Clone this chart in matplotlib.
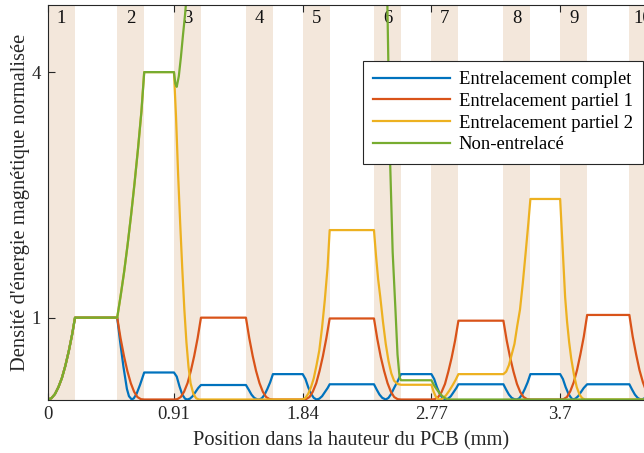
import numpy as np
import matplotlib.pyplot as plt

plt.rcParams['font.family'] = ['Liberation Serif', 'DejaVu Serif']

# couches de cuivre (mm)
layer_start = [0.0, 0.50, 0.91, 1.43, 1.84, 2.355, 2.77, 3.29, 3.70, 4.20]
layer_thick = 0.195
layer_names = ['1', '2', '3', '4', '5', '6', '7', '8', '9', '10']

x_ticks = [0, 0.91, 1.84, 2.77, 3.7]
x_ticklabels = ['0', '0.91', '1.84', '2.77', '3.7']
y_ticks = [1, 4]
y_ticklabels = ['1', '4']

# points (position mm, densite normalisee)
l1_pts = [(0, 0), (0.025, 0.016), (0.05, 0.066), (0.075, 0.15), (0.10, 0.26),
          (0.125, 0.41), (0.15, 0.59), (0.175, 0.8), (0.195, 1.0)]
l2_pts = [(0.50, 1.0), (0.525, 1.27), (0.55, 1.56), (0.575, 1.89), (0.60, 2.25),
          (0.625, 2.64), (0.65, 3.06), (0.675, 3.52), (0.695, 4.0)]

blue_pts = l1_pts + [
    (0.50, 1.0), (0.52, 0.72), (0.545, 0.40), (0.57, 0.13), (0.585, 0.04), (0.605, 0),
    (0.62, 0.015), (0.64, 0.07), (0.665, 0.18), (0.695, 0.33),
    (0.91, 0.33), (0.93, 0.28), (0.95, 0.16), (0.97, 0.06), (0.99, 0.01), (1.006, 0),
    (1.025, 0.01), (1.045, 0.04), (1.065, 0.09), (1.085, 0.14), (1.105, 0.177),
    (1.43, 0.177), (1.45, 0.12), (1.47, 0.06), (1.49, 0.02), (1.51, 0.003), (1.525, 0),
    (1.545, 0.015), (1.565, 0.06), (1.585, 0.13), (1.605, 0.21), (1.625, 0.31),
    (1.84, 0.31), (1.86, 0.25), (1.88, 0.15), (1.90, 0.07), (1.92, 0.02), (1.94, 0),
    (1.96, 0.01), (1.98, 0.04), (2.00, 0.09), (2.02, 0.14), (2.035, 0.186),
    (2.355, 0.186), (2.375, 0.12), (2.395, 0.06), (2.415, 0.02), (2.44, 0),
    (2.46, 0.02), (2.48, 0.07), (2.50, 0.14), (2.525, 0.22), (2.55, 0.31),
    (2.77, 0.31), (2.79, 0.25), (2.81, 0.15), (2.83, 0.07), (2.85, 0.02), (2.87, 0),
    (2.89, 0.01), (2.91, 0.04), (2.93, 0.09), (2.95, 0.14), (2.965, 0.186),
    (3.29, 0.186), (3.31, 0.12), (3.33, 0.06), (3.35, 0.02), (3.37, 0.003), (3.387, 0),
    (3.405, 0.015), (3.425, 0.06), (3.445, 0.13), (3.465, 0.21), (3.485, 0.31),
    (3.70, 0.31), (3.72, 0.25), (3.74, 0.15), (3.76, 0.07), (3.775, 0.03), (3.79, 0),
    (3.81, 0.01), (3.83, 0.04), (3.85, 0.09), (3.87, 0.14), (3.895, 0.186),
    (4.20, 0.186), (4.22, 0.12), (4.24, 0.06), (4.26, 0.02), (4.275, 0.005), (4.29, 0),
    (4.31, 0.015), (4.33, 0.06), (4.35, 0.13), (4.375, 0.22), (4.395, 0.33)]

orange_pts = l1_pts + [
    (0.50, 1.0), (0.524, 0.75), (0.549, 0.53), (0.573, 0.35), (0.598, 0.2),
    (0.622, 0.095), (0.646, 0.03), (0.671, 0.004), (0.695, 0),
    (0.91, 0), (0.934, 0.004), (0.959, 0.03), (0.983, 0.095), (1.008, 0.2),
    (1.032, 0.35), (1.056, 0.53), (1.081, 0.75), (1.105, 1.0),
    (1.43, 1.0), (1.454, 0.75), (1.479, 0.53), (1.503, 0.35), (1.528, 0.2),
    (1.552, 0.095), (1.576, 0.03), (1.601, 0.004), (1.625, 0),
    (1.84, 0), (1.864, 0.004), (1.889, 0.03), (1.913, 0.095), (1.938, 0.2),
    (1.962, 0.35), (1.986, 0.53), (2.011, 0.75), (2.035, 0.99),
    (2.355, 0.99), (2.379, 0.74), (2.404, 0.52), (2.428, 0.35), (2.453, 0.2),
    (2.477, 0.095), (2.501, 0.03), (2.526, 0.004), (2.55, 0),
    (2.77, 0), (2.794, 0.004), (2.819, 0.03), (2.843, 0.09), (2.868, 0.19),
    (2.892, 0.34), (2.916, 0.51), (2.941, 0.72), (2.965, 0.963),
    (3.29, 0.963), (3.314, 0.72), (3.339, 0.51), (3.363, 0.34), (3.388, 0.19),
    (3.412, 0.09), (3.436, 0.03), (3.461, 0.004), (3.485, 0),
    (3.70, 0), (3.724, 0.004), (3.749, 0.03), (3.773, 0.1), (3.798, 0.21),
    (3.822, 0.36), (3.846, 0.55), (3.871, 0.77), (3.895, 1.033),
    (4.20, 1.033), (4.224, 0.77), (4.249, 0.55), (4.273, 0.36), (4.298, 0.21),
    (4.322, 0.1), (4.346, 0.03), (4.371, 0.004), (4.395, 0)]

yellow_pts = l1_pts + l2_pts + [
    (0.91, 4.0), (0.925, 3.45), (0.94, 2.75), (0.955, 2.15), (0.97, 1.6), (0.985, 1.1),
    (1.0, 0.7), (1.015, 0.4), (1.03, 0.2), (1.05, 0.07), (1.07, 0.015), (1.09, 0),
    (1.84, 0), (1.86, 0.02), (1.88, 0.07), (1.90, 0.15), (1.92, 0.26), (1.94, 0.42),
    (1.96, 0.6), (1.98, 0.88), (2.00, 1.22), (2.02, 1.62), (2.035, 2.07),
    (2.355, 2.07), (2.37, 1.75), (2.385, 1.47), (2.40, 1.26), (2.42, 0.95), (2.44, 0.68),
    (2.46, 0.47), (2.48, 0.32), (2.50, 0.23), (2.525, 0.19), (2.55, 0.18),
    (2.77, 0.18), (2.785, 0.1), (2.80, 0.04), (2.815, 0.008), (2.83, 0), (2.85, 0.01),
    (2.875, 0.05), (2.90, 0.11), (2.925, 0.18), (2.945, 0.24), (2.965, 0.31),
    (3.29, 0.31), (3.31, 0.34), (3.33, 0.42), (3.35, 0.55), (3.37, 0.68), (3.39, 0.9),
    (3.41, 1.1), (3.43, 1.42), (3.45, 1.78), (3.47, 2.15), (3.485, 2.45),
    (3.70, 2.45), (3.712, 2.05), (3.724, 1.65), (3.736, 1.25), (3.75, 0.95), (3.765, 0.7),
    (3.78, 0.5), (3.80, 0.3), (3.82, 0.15), (3.84, 0.06), (3.86, 0.015), (3.88, 0),
    (4.395, 0)]

green_pts = l1_pts + l2_pts + [
    (0.91, 4.0), (0.92, 3.86), (0.93, 3.82), (0.945, 3.95), (0.96, 4.18), (0.975, 4.45),
    (0.99, 4.7), (1.0, 4.9), (1.02, 5.5), (1.05, 6.6), (1.08, 7.9), (1.105, 9.0),
    (1.43, 9.0), (1.625, 16.0), (1.84, 16.0), (2.035, 25.0), (2.355, 25.0),
    (2.40, 14.0), (2.43, 8.0), (2.45, 5.0), (2.47, 3.0), (2.49, 1.8), (2.51, 1.1),
    (2.525, 0.55), (2.54, 0.27), (2.55, 0.235),
    (2.77, 0.235), (2.79, 0.17), (2.81, 0.12), (2.83, 0.075), (2.85, 0.04),
    (2.87, 0.015), (2.89, 0.003), (2.91, 0), (4.395, 0)]

series = [
    ('Entrelacement complet', blue_pts, '#0072BD'),
    ('Entrelacement partiel 1', orange_pts, '#D95319'),
    ('Entrelacement partiel 2', yellow_pts, '#EDB120'),
    ('Non-entrelacé', green_pts, '#77AC30'),
]

fig = plt.figure(figsize=(6.44, 4.53), dpi=100)
# l'axe depasse a droite de l'image, comme sur l'original
ax = fig.add_axes([48 / 644, 53.5 / 453, 606 / 644, 394.5 / 453])

# bandes des couches
for s, name in zip(layer_start, layer_names):
    ax.axvspan(s, s + layer_thick, color='#F3E7DB', lw=0, zorder=0)
    ax.text(s + layer_thick / 2, 0.965, name, transform=ax.get_xaxis_transform(),
            ha='center', va='center', fontsize=13.5, color='#111111', zorder=1)

for label, pts, c in series:
    x, y = np.array(pts).T
    ax.plot(x, y, color=c, lw=1.6, label=label, zorder=2)

ax.set_xlim(0, 4.378)
ax.set_ylim(0, 4.82)
ax.set_xticks(x_ticks, x_ticklabels)
ax.set_yticks(y_ticks, y_ticklabels)
ax.tick_params(direction='in', top=True, right=True, length=5, width=0.8,
               labelsize=13.5, colors='#262626', pad=5)
for sp in ax.spines.values():
    sp.set_color('#262626')
    sp.set_linewidth(0.8)

ax.set_xlabel('Position dans la hauteur du PCB (mm)', fontsize=14.8, color='#262626', labelpad=5.5)
ax.set_ylabel("Densité d'énergie magnétique normalisée", fontsize=14.8, color='#262626', labelpad=1)

leg = ax.legend(loc='upper right', bbox_to_anchor=(643 / 644, 1 - 61 / 453),
                bbox_transform=fig.transFigure, borderaxespad=0, fontsize=13.4,
                frameon=True, fancybox=False, framealpha=1, edgecolor='#262626',
                handlelength=4.15, handletextpad=0.45, borderpad=0.55, labelspacing=0.25)
leg.get_frame().set_linewidth(0.8)

fig.savefig('out.png', dpi=100)
